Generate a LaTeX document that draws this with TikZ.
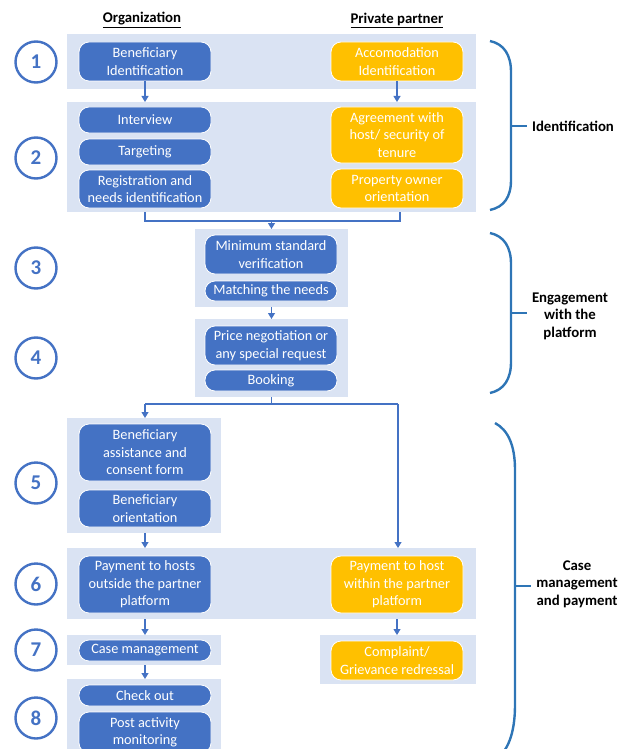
\documentclass[tikz,border=0pt]{standalone}
\usepackage{fontspec}
\setmainfont{Carlito}
\usetikzlibrary{arrows.meta}
\definecolor{bandc}{HTML}{DAE3F3}
\definecolor{bluebox}{HTML}{4472C4}
\definecolor{yelbox}{HTML}{FFC000}
\definecolor{bracec}{HTML}{2E75B6}
\newcommand\bandn[5]{\node[band, minimum width={#4-#2}, minimum height={#5-#3}] (#1) at ({(#2+#4)/2},{(#3+#5)/2}) {};}
\newcommand\boxn[7]{\node[#1, minimum width={#5-#3}, minimum height={#6-#4}] (#2) at ({(#3+#5)/2},{(#4+#6)/2}) {#7};}
\begin{document}
\begin{tikzpicture}[x=1pt,y=-1pt,
  band/.style={fill=bandc, draw=none, inner sep=0pt, outer sep=0pt},
  boxbase/.style={rounded corners=10pt, draw=white, line width=0.8pt, text=white, align=center,
     font=\fontsize{14.3}{17.5}\selectfont, inner sep=0pt, outer sep=0pt},
  bbox/.style={boxbase, fill=bluebox},
  ybox/.style={boxbase, fill=yelbox},
  arr/.style={draw=bluebox, line width=1.1pt, -{Triangle[width=7pt,length=6pt]}},
  ln/.style={draw=bluebox, line width=1.1pt},
  num/.style={circle, draw=bluebox, line width=2.4pt, minimum size=41pt, fill=white, text=bluebox,
     font=\fontsize{21}{21}\selectfont\bfseries, inner sep=0pt},
  hdr/.style={font=\fontsize{14.8}{17.5}\selectfont\bfseries},
  lab/.style={font=\fontsize{14.8}{17.5}\selectfont\bfseries, align=center},
  brace/.style={draw=bracec, line width=2.4pt}
]
\useasboundingbox (0,0) rectangle (625,749);
\clip (0,0) rectangle (625,749);

% headers
\node[hdr] (h1) at (142,20) {\underline{Organization}};
\node[hdr] (h2) at (397,20) {\underline{Private partner}};

% bands
\bandn{b1}{67}{34}{476}{89}
\bandn{b2}{67}{102}{476}{212}
\bandn{b3}{195}{229}{348}{307}
\bandn{b4}{195}{319}{348}{397}
\bandn{b5}{67}{418}{221}{533}
\bandn{b6}{67}{548}{476}{619}
\bandn{b7}{67}{635}{221}{665}
\bandn{bc}{320}{635}{476}{684}
\bandn{b8}{67}{679}{221}{770}

% boxes
\boxn{bbox}{ben}{79}{42}{211}{81}{Beneficiary\\Identification}
\boxn{ybox}{acc}{331}{42}{463}{81}{Accomodation\\Identification}
\boxn{bbox}{int}{79}{107}{211}{133}{Interview}
\boxn{bbox}{tar}{79}{139}{211}{165}{Targeting}
\boxn{bbox}{reg}{79}{170}{211}{208}{Registration and\\needs identification}
\boxn{ybox}{agr}{331}{107}{463}{163}{Agreement with\\host/ security of\\tenure}
\boxn{ybox}{pro}{331}{169}{463}{208}{Property owner\\orientation}
\boxn{bbox}{minv}{205}{235}{337}{274}{Minimum standard\\verification}
\boxn{bbox}{mat}{205}{281}{337}{301}{Matching the needs}
\boxn{bbox}{pri}{205}{326}{337}{365}{Price negotiation or\\any special request}
\boxn{bbox}{boo}{205}{370}{337}{391}{Booking}
\boxn{bbox}{ass}{79}{424}{211}{481}{Beneficiary\\assistance and\\consent form}
\boxn{bbox}{ori}{79}{490}{211}{527}{Beneficiary\\orientation}
\boxn{bbox}{pout}{79}{556}{211}{613}{Payment to hosts\\outside the partner\\platform}
\boxn{ybox}{pin}{331}{556}{463}{613}{Payment to host\\within the partner\\platform}
\boxn{bbox}{cas}{79}{640}{211}{661}{Case management}
\boxn{ybox}{com}{331}{641}{463}{680}{Complaint/\\Grievance redressal}
\boxn{bbox}{che}{79}{685}{211}{706}{Check out}
\boxn{bbox}{pos}{79}{712}{211}{753}{Post activity\\monitoring}

% numbers
\node[num] (c1) at (36,62) {1};
\node[num] (c2) at (36,158) {2};
\node[num] (c3) at (36,268) {3};
\node[num] (c4) at (36,358) {4};
\node[num] (c5) at (36,483) {5};
\node[num] (c6) at (36,584) {6};
\node[num] (c7) at (36,650) {7};
\node[num] (c8) at (36,718) {8};

% connectors
\draw[arr] (ben.south) -- (ben.south |- b2.north);
\draw[arr] (acc.south) -- (acc.south |- b2.north);
\coordinate (j1) at (271.5,221);
\coordinate (j1l) at (145,221);
\coordinate (j1r) at (400,221);
\draw[ln] (j1l |- b2.south) -- (j1l) -- (j1r) -- (j1r |- b2.south);
\draw[arr] (j1) -- (j1 |- b3.north);
\draw[arr] (b3.south) -- (b4.north);
\coordinate (j2) at (271.5,404);
\coordinate (j2l) at (145,404);
\coordinate (j2r) at (398,404);
\draw[ln] (b4.south) -- (j2);
\draw[ln] (j2l) -- (j2r);
\draw[arr] (j2l) -- (j2l |- b5.north);
\draw[arr] (j2r) -- (j2r |- b6.north);
\draw[arr] (ori.south |- b5.south) -- (ori.south |- b6.north);
\draw[arr] (pout.south |- b6.south) -- (pout.south |- b7.north);
\draw[arr] (pin.south |- b6.south) -- (pin.south |- bc.north);
\draw[arr] (cas.south |- b7.south) -- (cas.south |- b8.north);

% braces and labels
\node[lab] (l1) at (573,126) {Identification};
\draw[brace] (490,41) .. controls (504,44) and (511,55) .. (511,72) -- (511,180) .. controls (511,197) and (504,207) .. (490,210);
\coordinate (t1) at (511,126);
\draw[brace] (t1) -- (527,126);

\node[lab] (l2) at (570,316) {Engagement\\with the\\platform};
\draw[brace] (490,233) .. controls (504,236) and (511,247) .. (511,264) -- (511,362) .. controls (511,379) and (504,390) .. (490,393);
\coordinate (t2) at (511,313);
\draw[brace] (t2) -- (527,313);

\node[lab] (l3) at (577,584) {Case\\management\\and payment};
\draw[brace] (495,423) .. controls (508,430) and (515,445) .. (515,470) -- (515,705) .. controls (515,735) and (507,752) .. (495,760);
\coordinate (t3) at (515,586);
\draw[brace] (t3) -- (531,586);
\end{tikzpicture}
\end{document}
